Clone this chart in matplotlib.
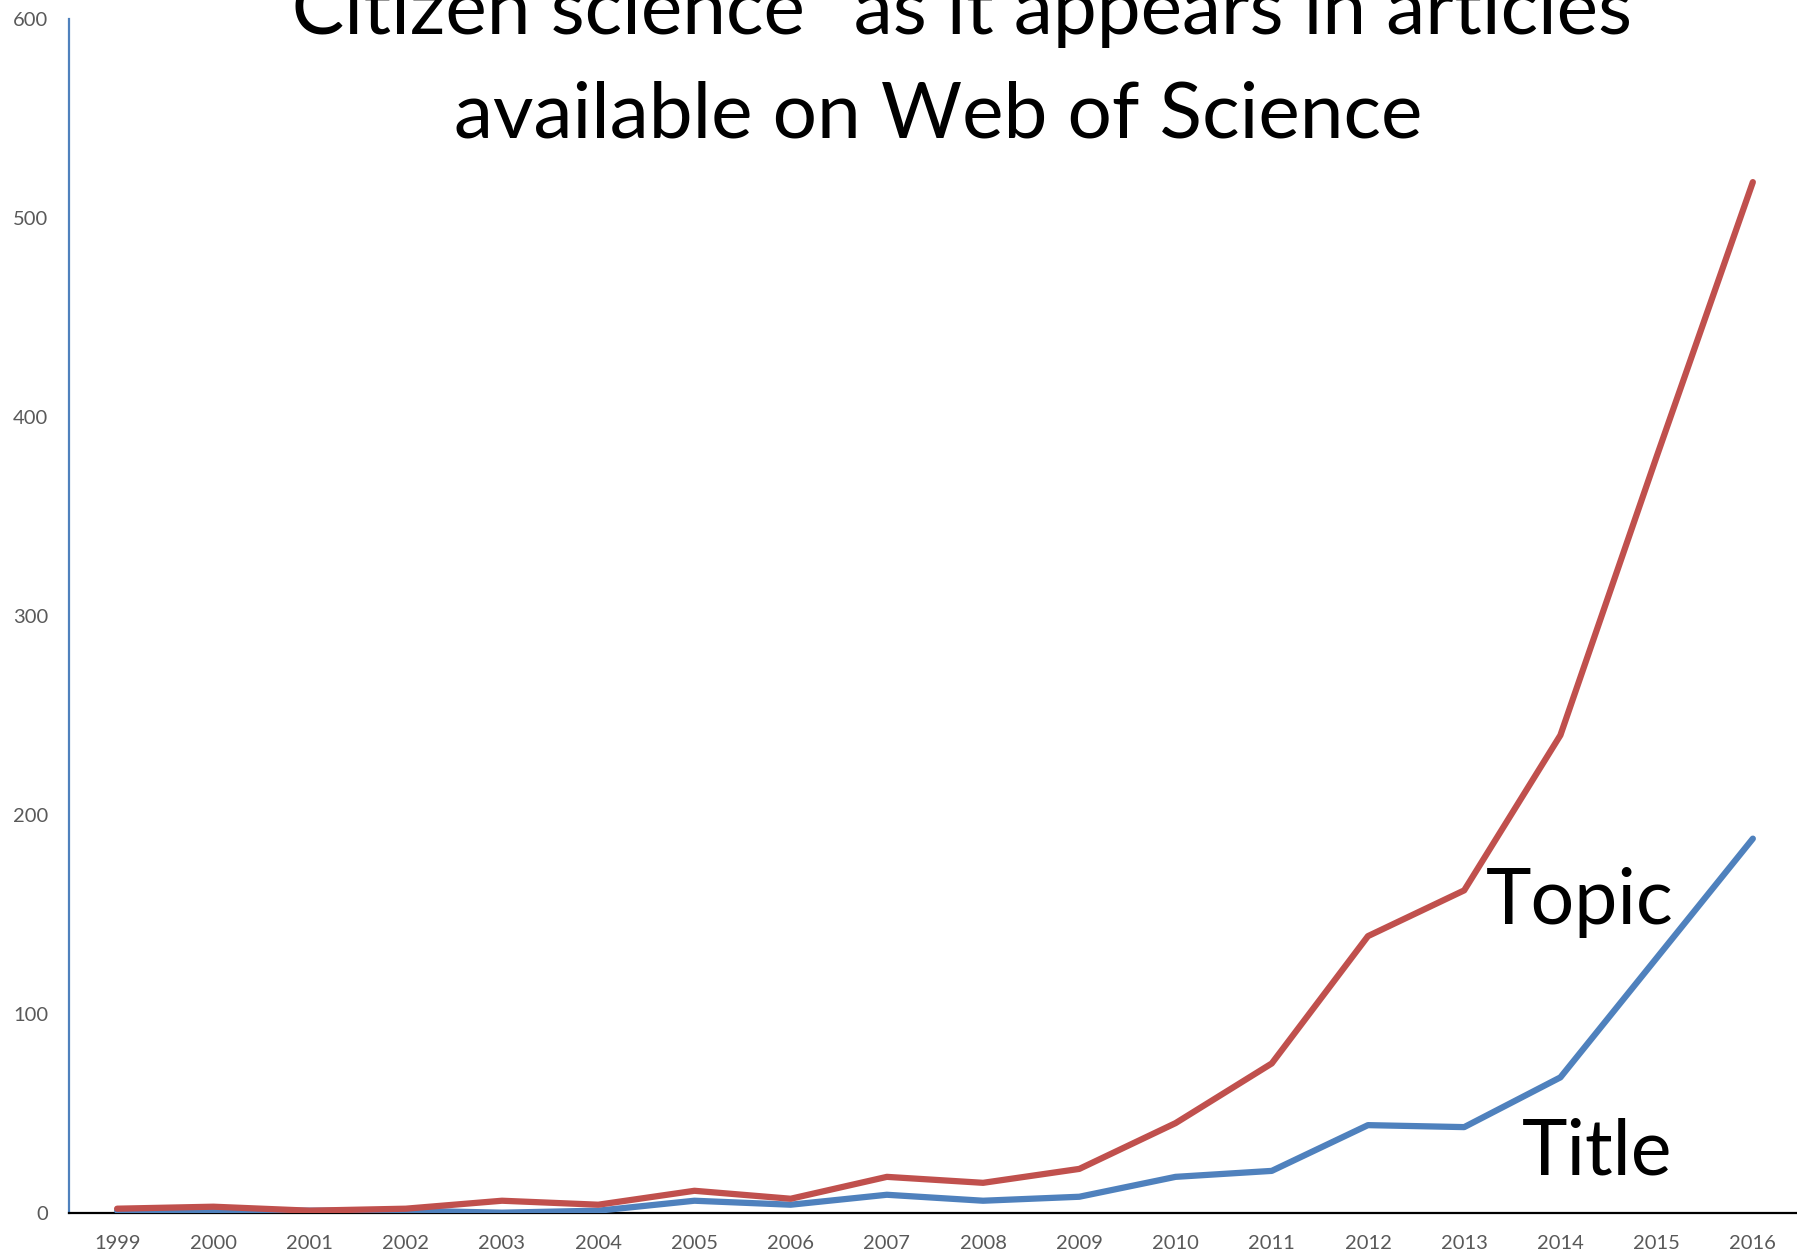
import matplotlib.pyplot as plt

# Data
years = [str(y) for y in range(1999, 2017)]
topic = [2, 3, 1, 2, 6, 4, 11, 7, 18, 15, 22, 45, 75, 139, 162, 240, 380, 518]
title = [1, 1, 1, 1, 0, 1, 6, 4, 9, 6, 8, 18, 21, 44, 43, 68, 128, 188]
yticks = [0, 100, 200, 300, 400, 500, 600]

plt.rcParams['font.family'] = ['Lato', 'DejaVu Sans']

fig = plt.figure(figsize=(17.97, 12.56), dpi=100)
ax = fig.add_axes([0.0384, 0.0345, 0.9638, 0.9504])

x = list(range(len(years)))
ax.plot(x, title, color='#4F81BD', lw=4.5, solid_capstyle='round', zorder=3)
ax.plot(x, topic, color='#C0504D', lw=4.5, solid_capstyle='round', zorder=4)

ax.set_xlim(-0.5, len(years) - 0.5)
ax.set_ylim(0, 600)
ax.set_xticks(x)
ax.set_xticklabels(years)
ax.set_yticks(yticks)
ax.tick_params(length=0, labelsize=14.5, labelcolor='#595959')
ax.tick_params(axis='x', pad=16)
ax.tick_params(axis='y', pad=15)

for s in ['top', 'right']:
    ax.spines[s].set_visible(False)
ax.spines['left'].set_color('#4F81BD')
ax.spines['left'].set_linewidth(1.6)
ax.spines['bottom'].set_color('black')
ax.spines['bottom'].set_linewidth(1.6)

# series labels inside plot
ax.text(14.23, 145, 'Topic', fontsize=55.5, ha='left', va='baseline')
ax.text(14.6, 19, 'Title', fontsize=55.5, ha='left', va='baseline')

fig.text(0.527, 1 - 34 / 1256, '\u201cCitizen science\u201d as it appears in articles',
         fontsize=56.5, ha='center', va='baseline')
fig.text(0.522, 1 - 138 / 1256, 'available on Web of Science',
         fontsize=56.5, ha='center', va='baseline')

fig.savefig('out.png', dpi=100)
